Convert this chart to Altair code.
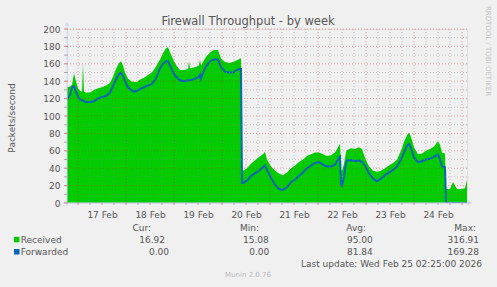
import altair as alt
import pandas as pd

# ---- data (hours since 17 Feb 2026 00:00) ----
hours = [-5.5, -4, -3, -2, -1, 0, 1, 2, 2.5, 3, 4, 6, 8, 10, 12, 14, 16, 17.5, 19, 20.5,
         21.5, 22.5, 23.5, 25, 26.5, 28, 29.5, 31, 33, 35, 37, 39, 41, 42.5, 44, 45, 46, 47, 48, 49.5,
         51, 53, 55, 55.5, 56, 58.5, 60.5, 61, 61.5, 62.5, 64, 66, 68, 70, 71.5, 73.5, 75.5, 77.5, 79.5, 81,
         81.5, 82, 82.5, 84.5, 86.5, 88.5, 90.5, 92.5, 93.5, 94.5, 96.5, 98.5, 100.5, 102.5, 104.5, 106.5, 108.5, 110.5, 112.5, 114.5,
         116.5, 118.5, 120.5, 122.5, 124.5, 126.5, 128.5, 130, 131, 131.5, 132, 133, 134, 134.5, 136.5, 138.5, 140.5, 142, 143.5, 145.5,
         147.5, 149.5, 151.5, 153.5, 155.5, 157.5, 159.5, 161.5, 163, 164.5, 165.5, 166.5, 168, 170, 172, 174, 176, 178, 180, 181,
         182, 183.5, 184, 186, 187.5, 188.5, 189.5, 192, 193.5, 194.5]
received = [133, 134, 136, 149, 140, 132, 129, 128, 160, 128, 127, 127, 130, 132, 133, 135, 138, 145, 154, 161,
            163, 158, 150, 143, 140, 139, 139, 142, 144, 147, 150, 157, 165, 172, 178, 179, 173, 168, 163, 157,
            153, 153, 154, 163, 155, 156, 158, 165, 158, 162, 168, 173, 176, 176, 166, 162, 161, 162, 164, 166,
            166, 36, 37, 40, 45, 49, 53, 56, 59, 50, 42, 37, 34, 32, 35, 40, 43, 47, 50, 54,
            56, 58, 58, 56, 54, 55, 58, 64, 68, 38, 37, 45, 58, 61, 63, 62, 64, 62, 52, 42,
            37, 36, 37, 40, 43, 46, 50, 60, 70, 78, 81, 76, 64, 56, 57, 60, 62, 65, 71, 67,
            58, 57, 16, 16, 24, 20, 16, 16, 17, 27]
forwarded = [119, 124, 133, 134, 128, 122, 119, 118, 118, 117, 116, 116, 117, 120, 122, 123, 127, 134, 142, 148,
             150, 146, 140, 133, 130, 128, 129, 131, 133, 135, 137, 143, 155, 160, 163, 163, 158, 153, 148, 144,
             141, 140, 141, 141, 141, 143, 145, 147, 143, 150, 157, 163, 165, 165, 156, 151, 150, 150, 153, 154,
             154, 23, 23, 26, 31, 34, 37, 41, 43, 38, 29, 21, 16, 15, 18, 24, 27, 31, 35, 40,
             43, 46, 47, 44, 42, 42, 44, 50, 53, 22, 20, 30, 46, 49, 49, 48, 49, 47, 43, 34,
             28, 25, 28, 32, 35, 38, 42, 50, 58, 66, 68, 63, 52, 47, 48, 50, 51, 53, 56, 50,
             42, 41, 0, 0, 0, 0, 0, 0, 0, 0]

day_labels = ["17 Feb", "18 Feb", "19 Feb", "20 Feb", "21 Feb", "22 Feb", "23 Feb", "24 Feb"]
y_ticks = [0, 20, 40, 60, 80, 100, 120, 140, 160, 180, 200]

title_text = "Firewall Throughput - by week"
y_title = "Packets/second"
side_text = "RRDTOOL / TOBI OETIKER"
series_names = ["Received", "Forwarded"]
col_heads = ["Cur:", "Min:", "Avg:", "Max:"]
recv_stats = ["16.92", "15.08", "95.00", "316.91"]
fwd_stats = ["0.00", "0.00", "81.84", "169.28"]
last_update = "Last update: Wed Feb 25 02:25:00 2026"
footer = "Munin 2.0.76"

# ---- layout / style ----
W, H = 400, 174
GREEN, BLUE = "#00CC00", "#0066B3"
FONT = "DejaVu Sans"
FC = "#555555"
AXC = "#CFD6F8"
MINOR = "rgba(140,140,140,0.45)"
MAJOR = "rgba(200,50,50,0.40)"

xs = alt.Scale(domain=[-5.5, 194.5], nice=False, zero=False)
ys = alt.Scale(domain=[0, 200], nice=False, zero=True)

label_hours = [12 + 24 * i for i in range(len(day_labels))]
label_expr = "[" + ",".join("'%s'" % d for d in day_labels) + "][floor(datum.value/24)]"
x_axis = alt.Axis(values=label_hours, labelExpr=label_expr, title=None, domain=False, ticks=False,
                  grid=False, labelFont=FONT, labelFontSize=9, labelColor=FC, labelPadding=7,
                  labelFlush=False, labelOverlap=False)
y_axis = alt.Axis(values=y_ticks, title=None, domain=False, ticks=False, grid=False,
                  labelFont=FONT, labelFontSize=9, labelColor=FC, labelPadding=7)

df = pd.DataFrame({"h": hours, "Received": received, "Forwarded": forwarded})

area = alt.Chart(df).mark_area(color=GREEN, clip=True).encode(
    x=alt.X("h:Q", scale=xs, axis=x_axis),
    y=alt.Y("Received:Q", scale=ys, axis=y_axis),
)
line = alt.Chart(df).mark_line(color=BLUE, strokeWidth=2, clip=True).encode(
    x=alt.X("h:Q", scale=xs, axis=x_axis),
    y=alt.Y("Forwarded:Q", scale=ys, axis=y_axis),
)

minor_y = [v for v in range(10, 200, 10) if v % 20]
major_y = [v for v in range(20, 201, 20)]
minor_x = [v for v in range(0, 195, 6) if v % 24]
major_x = [v for v in range(0, 195, 24)]


def hrules(vals, color):
    return alt.Chart(pd.DataFrame({"v": vals})).mark_rule(color=color, strokeDash=[1, 2], strokeWidth=1).encode(
        y=alt.Y("v:Q", scale=ys, axis=y_axis), x=alt.value(0), x2=alt.value(W))


def vrules(vals, color):
    return alt.Chart(pd.DataFrame({"v": vals})).mark_rule(color=color, strokeDash=[1, 2], strokeWidth=1).encode(
        x=alt.X("v:Q", scale=xs, axis=x_axis), y=alt.value(0), y2=alt.value(H))


def xticks(vals, color):
    return alt.Chart(pd.DataFrame({"v": vals})).mark_rule(color=color, strokeWidth=1).encode(
        x=alt.X("v:Q", scale=xs, axis=x_axis), y=alt.value(H - 1), y2=alt.value(H + 2))


def yticks(vals, color):
    return alt.Chart(pd.DataFrame({"v": vals})).mark_rule(color=color, strokeWidth=1).encode(
        y=alt.Y("v:Q", scale=ys, axis=y_axis), x=alt.value(-3), x2=alt.value(1))


one = pd.DataFrame({"a": [0]})
x_line = alt.Chart(one).mark_rule(color=AXC, strokeWidth=1).encode(
    x=alt.value(-4), x2=alt.value(W + 2), y=alt.value(H))
y_line = alt.Chart(one).mark_rule(color=AXC, strokeWidth=1).encode(
    y=alt.value(H + 3), y2=alt.value(-4), x=alt.value(0))
x_arrow = alt.Chart(one).mark_point(shape="triangle-right", filled=True, size=22, color=AXC, opacity=1).encode(
    x=alt.value(W + 3), y=alt.value(H))
y_arrow = alt.Chart(one).mark_point(shape="triangle-up", filled=True, size=22, color=AXC, opacity=1).encode(
    x=alt.value(0), y=alt.value(-5))


def txt(s, x, y, align="left", size=9, color=FC, angle=0):
    return alt.Chart(pd.DataFrame({"t": [s]})).mark_text(
        align=align, baseline="alphabetic", fontSize=size, color=color, angle=angle, font=FONT
    ).encode(text="t:N", x=alt.value(x), y=alt.value(y))


def box(color, y0):
    return alt.Chart(one).mark_rect(color=color).encode(
        x=alt.value(-53), x2=alt.value(-47.5), y=alt.value(y0), y2=alt.value(y0 + 5.5))


texts = [
    txt(title_text, 181, -4.5, align="center", size=11.5),
    txt(y_title, -52, 89, align="center", angle=270),
    txt(side_text, 418.5, 22, align="center", size=7, color="#C4C4C4", angle=90),
    box(GREEN, 207.8), box(BLUE, 220.0),
    txt(series_names[0], -46.3, 214.3),
    txt(series_names[1], -46.3, 226),
    txt(last_update, 415, 237.7, align="right"),
    txt(footer, 181, 248.3, align="center", size=7, color="#BBBBBB"),
]
head_x = [84, 192, 299, 409]
recv_x = [98, 201.7, 305.7, 412]
fwd_x = [102, 202.3, 305.7, 412]
for i in range(4):
    texts.append(txt(col_heads[i], head_x[i], 201.7, align="right"))
    texts.append(txt(recv_stats[i], recv_x[i], 214.3, align="right"))
    texts.append(txt(fwd_stats[i], fwd_x[i], 226, align="right"))

chart = alt.layer(
    area, line,
    hrules(minor_y, MINOR), hrules(major_y, MAJOR),
    vrules(minor_x, MINOR), vrules(major_x, MAJOR),
    x_line, y_line,
    xticks(minor_x, "#AAAAAA"), xticks(major_x, "#D08080"),
    yticks(minor_y, "#AAAAAA"), yticks([v for v in y_ticks], "#D08080"),
    x_arrow, y_arrow,
    *texts,
).properties(
    width=W, height=H,
    autosize=alt.AutoSizeParams(type="none"),
    padding={"left": 67, "top": 29, "right": 30, "bottom": 84},
    background="#F0F0F0",
).configure_view(fill="white", stroke=None).configure(font=FONT)

chart.save("out.html", embed_options={"renderer": "svg", "actions": False})
